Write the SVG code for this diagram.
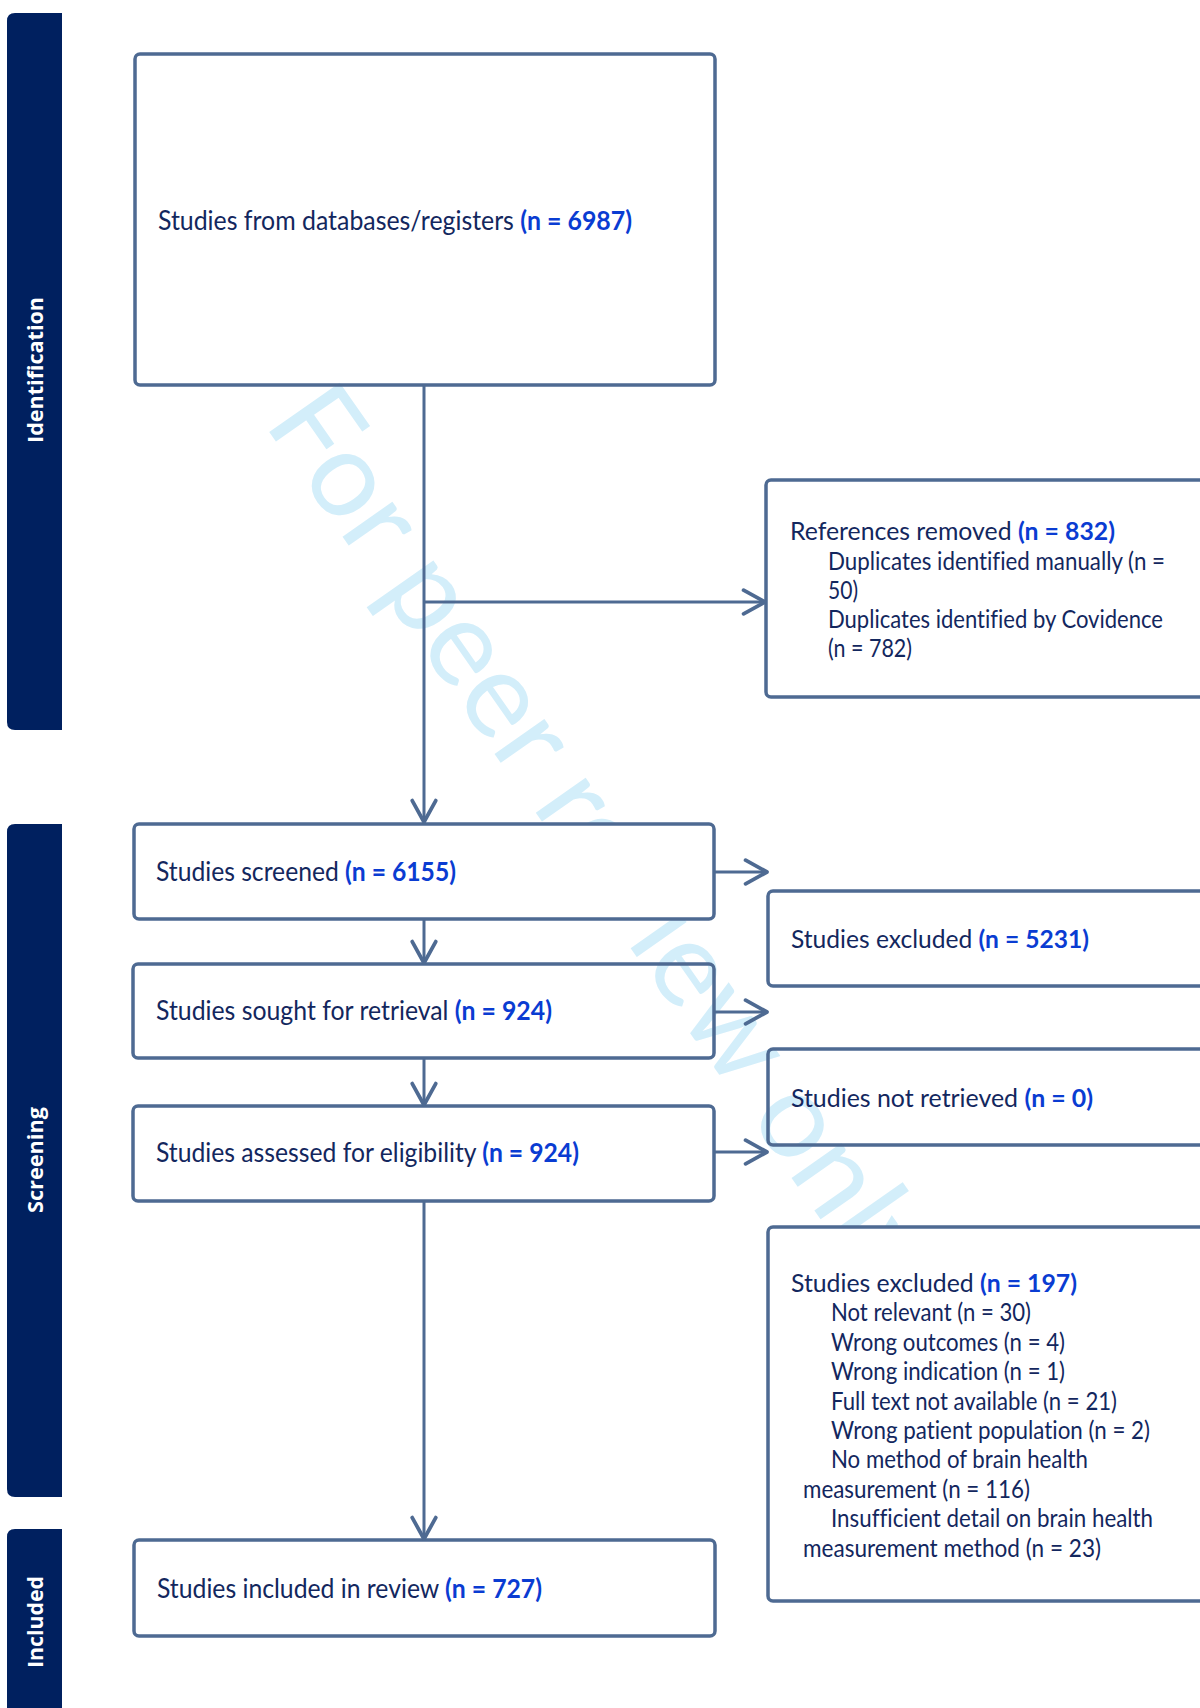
<svg xmlns="http://www.w3.org/2000/svg" width="1200" height="1708" viewBox="0 0 1200 1708">
  <style>
    .bar { fill: #00205F; }
    .lbl { font-family: "Open Sans", "Liberation Sans", sans-serif; font-weight: 700; font-size: 21px; fill: #FFFFFF; text-anchor: middle; }
    .box { stroke: #4E6A92; stroke-width: 3.5; }
    .wbox { fill: #FFFFFF; }
    .tbox { fill: none; }
    .t { font-family: Lato, "Liberation Sans", sans-serif; font-size: 25.5px; fill: #13275E; font-variant-ligatures: none; }
    .tl { font-family: Lato, "Liberation Sans", sans-serif; font-size: 27px; fill: #13275E; font-variant-ligatures: none; }
    .n { font-weight: 700; fill: #0A3CD2; }
    .conn { fill: none; stroke: #4E6A92; stroke-width: 3; }
    .wm { font-family: Lato, "Liberation Sans", sans-serif; font-size: 120px; fill: #D3EEFA; }
  </style>
  <defs>
    <marker id="ah" markerUnits="userSpaceOnUse" markerWidth="30" markerHeight="30" viewBox="-24 -14 28 28" refX="0" refY="0" orient="auto">
      <path d="M-20,-11 L0,0 L-20,11" fill="none" stroke="#4E6A92" stroke-width="3.5" stroke-linecap="round" stroke-linejoin="round"/>
    </marker>
  </defs>
  <rect width="1200" height="1708" fill="#FFFFFF"/>

  <!-- phase bars -->
  <g id="phase-identification">
    <path class="bar" d="M62,13 H15 Q7,13 7,21 V722 Q7,730 15,730 H62 Z"/>
    <text class="lbl" transform="translate(43,370) rotate(-90)" textLength="146" lengthAdjust="spacingAndGlyphs">Identification</text>
  </g>
  <g id="phase-screening">
    <path class="bar" d="M62,824 H15 Q7,824 7,832 V1489 Q7,1497 15,1497 H62 Z"/>
    <text class="lbl" transform="translate(43,1160) rotate(-90)" textLength="106" lengthAdjust="spacingAndGlyphs">Screening</text>
  </g>
  <g id="phase-included">
    <path class="bar" d="M62,1529 H15 Q7,1529 7,1537 V1708 H62 Z"/>
    <text class="lbl" transform="translate(43,1622) rotate(-90)" textLength="92" lengthAdjust="spacingAndGlyphs">Included</text>
  </g>

  <!-- watermark -->
  <g id="watermark">
    <text class="wm" transform="translate(263,423) rotate(55)" textLength="1070" lengthAdjust="spacingAndGlyphs">For peer review only</text>
  </g>

  <!-- nodes -->
  <g id="node-databases">
    <rect class="box tbox" x="135" y="54" width="580" height="331" rx="5"/>
    <text class="tl" x="158" y="230" textLength="474" lengthAdjust="spacingAndGlyphs">Studies from databases/registers <tspan class="n">(n = 6987)</tspan></text>
  </g>
  <g id="node-removed">
    <rect class="box wbox" x="766" y="480" width="500" height="217" rx="5"/>
    <text class="t" x="790" y="540" textLength="325" lengthAdjust="spacingAndGlyphs">References removed <tspan class="n">(n = 832)</tspan></text>
    <text class="t" x="828" y="570" textLength="337" lengthAdjust="spacingAndGlyphs">Duplicates identified manually (n =</text>
    <text class="t" x="828" y="599" textLength="30" lengthAdjust="spacingAndGlyphs">50)</text>
    <text class="t" x="828" y="628" textLength="335" lengthAdjust="spacingAndGlyphs">Duplicates identified by Covidence</text>
    <text class="t" x="828" y="657" textLength="84" lengthAdjust="spacingAndGlyphs">(n = 782)</text>
  </g>
  <g id="node-screened">
    <rect class="box wbox" x="134" y="824" width="580" height="95" rx="5"/>
    <text class="tl" x="156" y="881" textLength="300" lengthAdjust="spacingAndGlyphs">Studies screened <tspan class="n">(n = 6155)</tspan></text>
  </g>
  <g id="node-excluded-screening">
    <rect class="box wbox" x="768" y="891" width="500" height="95" rx="5"/>
    <text class="t" x="791" y="948" textLength="298" lengthAdjust="spacingAndGlyphs">Studies excluded <tspan class="n">(n = 5231)</tspan></text>
  </g>
  <g id="node-sought">
    <rect class="box tbox" x="133" y="964" width="581" height="94" rx="5"/>
    <text class="tl" x="156" y="1020" textLength="396" lengthAdjust="spacingAndGlyphs">Studies sought for retrieval <tspan class="n">(n = 924)</tspan></text>
  </g>
  <g id="node-not-retrieved">
    <rect class="box tbox" x="768" y="1049" width="500" height="96" rx="5"/>
    <text class="t" x="791" y="1107" textLength="302" lengthAdjust="spacingAndGlyphs">Studies not retrieved <tspan class="n">(n = 0)</tspan></text>
  </g>
  <g id="node-assessed">
    <rect class="box wbox" x="133" y="1106" width="581" height="95" rx="5"/>
    <text class="tl" x="156" y="1162" textLength="423" lengthAdjust="spacingAndGlyphs">Studies assessed for eligibility <tspan class="n">(n = 924)</tspan></text>
  </g>
  <g id="node-excluded-eligibility">
    <rect class="box wbox" x="768" y="1227" width="500" height="374" rx="5"/>
    <text class="t" x="791" y="1292" textLength="286" lengthAdjust="spacingAndGlyphs">Studies excluded <tspan class="n">(n = 197)</tspan></text>
    <text class="t" x="831" y="1321.4" textLength="200" lengthAdjust="spacingAndGlyphs">Not relevant (n = 30)</text>
    <text class="t" x="831" y="1350.8" textLength="234" lengthAdjust="spacingAndGlyphs">Wrong outcomes (n = 4)</text>
    <text class="t" x="831" y="1380.2" textLength="234" lengthAdjust="spacingAndGlyphs">Wrong indication (n = 1)</text>
    <text class="t" x="831" y="1409.6" textLength="286" lengthAdjust="spacingAndGlyphs">Full text not available (n = 21)</text>
    <text class="t" x="831" y="1439" textLength="319" lengthAdjust="spacingAndGlyphs">Wrong patient population (n = 2)</text>
    <text class="t" x="831" y="1468.4" textLength="257" lengthAdjust="spacingAndGlyphs">No method of brain health</text>
    <text class="t" x="803" y="1497.8" textLength="227" lengthAdjust="spacingAndGlyphs">measurement (n = 116)</text>
    <text class="t" x="831" y="1527.2" textLength="322" lengthAdjust="spacingAndGlyphs">Insufficient detail on brain health</text>
    <text class="t" x="803" y="1556.6" textLength="298" lengthAdjust="spacingAndGlyphs">measurement method (n = 23)</text>
  </g>
  <g id="node-included">
    <rect class="box wbox" x="134" y="1540" width="581" height="96" rx="5"/>
    <text class="tl" x="157" y="1598" textLength="385" lengthAdjust="spacingAndGlyphs">Studies included in review <tspan class="n">(n = 727)</tspan></text>
  </g>

  <!-- connectors -->
  <g id="connectors">
    <path class="conn" d="M424,385 V822" marker-end="url(#ah)"/>
    <path class="conn" d="M424,602 H765" marker-end="url(#ah)"/>
    <path class="conn" d="M714,872 H767" marker-end="url(#ah)"/>
    <path class="conn" d="M424,919 V963" marker-end="url(#ah)"/>
    <path class="conn" d="M714,1012 H767" marker-end="url(#ah)"/>
    <path class="conn" d="M424,1058 V1105" marker-end="url(#ah)"/>
    <path class="conn" d="M714,1152 H767" marker-end="url(#ah)"/>
    <path class="conn" d="M424,1201 V1539" marker-end="url(#ah)"/>
  </g>
</svg>
